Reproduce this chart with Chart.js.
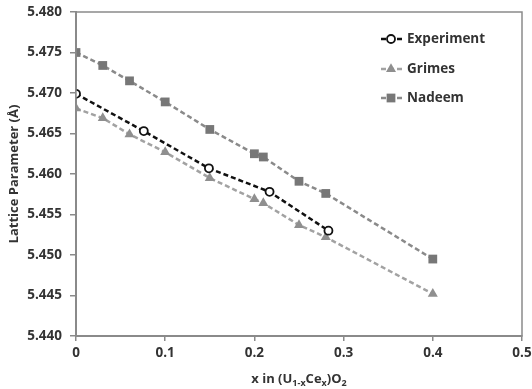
<!DOCTYPE html>
<html>
<head>
<meta charset="utf-8">
<script src="https://cdn.jsdelivr.net/npm/chart.js@4"></script>
<style>
  html, body { margin: 0; padding: 0; background: #fff; }
  #wrap { width: 532px; height: 389px; }
</style>
</head>
<body>
<div id="wrap"><canvas id="grafico" width="532" height="389"></canvas></div>
<script>
// valores
const expX = [0, 0.076, 0.149, 0.217, 0.283];
const expY = [5.4699, 5.4653, 5.4607, 5.4578, 5.4530];

const grimesX = [0, 0.03, 0.06, 0.1, 0.15, 0.2, 0.21, 0.25, 0.28, 0.4];
const grimesY = [5.4681, 5.4669, 5.4649, 5.4627, 5.4595, 5.4569, 5.4564, 5.4537, 5.4522, 5.4452];

const nadeemX = [0, 0.03, 0.06, 0.1, 0.15, 0.2, 0.21, 0.25, 0.28, 0.4];
const nadeemY = [5.4750, 5.4734, 5.4715, 5.4689, 5.4655, 5.4625, 5.4621, 5.4591, 5.4576, 5.4495];

const xTicks = [0, 0.1, 0.2, 0.3, 0.4, 0.5];
const yTicks = [5.440, 5.445, 5.450, 5.455, 5.460, 5.465, 5.470, 5.475, 5.480];

const fonte = '"Open Sans", "Liberation Sans", sans-serif';
const corTexto = '#333333';

function pontos(xs, ys) {
    return xs.map((x, i) => ({ x: x, y: ys[i] }));
}

function drawMarker(ctx, estilo, x, y, r) {
    if (estilo === 'circle') {
        ctx.arc(x, y, r, 0, Math.PI * 2);
    } else if (estilo === 'rect') {
        const s = r * Math.SQRT1_2;
        ctx.rect(x - s, y - s, 2 * s, 2 * s);
    } else if (estilo === 'triangle') {
        ctx.moveTo(x, y - r);
        ctx.lineTo(x + r * Math.sin(Math.PI / 3), y + r * 0.5);
        ctx.lineTo(x - r * Math.sin(Math.PI / 3), y + r * 0.5);
        ctx.closePath();
    }
}

// moldura, legenda e títulos dos eixos
const extras = {
    id: 'extras',
    afterDraw(chart) {
        const ctx = chart.ctx;
        const a = chart.chartArea;
        ctx.save();
        ctx.strokeStyle = '#8a8a8a';
        ctx.lineWidth = 1.5;
        ctx.strokeRect(a.left, a.top, a.right - a.left, a.bottom - a.top);

        // legenda
        const legX = 381, legY = [39, 69, 98];
        chart.data.datasets.forEach((ds, i) => {
            const y = legY[i];
            ctx.setLineDash([5, 3]);
            ctx.strokeStyle = ds.borderColor;
            ctx.lineWidth = 2.5;
            ctx.beginPath();
            ctx.moveTo(legX, y);
            ctx.lineTo(legX + 23, y);
            ctx.stroke();
            ctx.setLineDash([]);
            ctx.fillStyle = ds.pointBackgroundColor;
            ctx.strokeStyle = ds.pointBorderColor;
            ctx.lineWidth = ds.pointBorderWidth || 0.01;
            ctx.beginPath();
            drawMarker(ctx, ds.pointStyle, legX + 10, y, ds.pointRadius);
            ctx.fill();
            if (ds.pointBorderWidth) ctx.stroke();
            ctx.fillStyle = corTexto;
            ctx.font = 'bold 13.5px ' + fonte;
            ctx.textAlign = 'left';
            ctx.textBaseline = 'middle';
            ctx.fillText(ds.label, legX + 26, y);
        });

        // título do eixo y
        ctx.fillStyle = corTexto;
        ctx.font = 'bold 13px ' + fonte;
        ctx.translate(14, (a.top + a.bottom) / 2);
        ctx.rotate(-Math.PI / 2);
        ctx.textAlign = 'center';
        ctx.textBaseline = 'middle';
        ctx.fillText('Lattice Parameter (Å)', 0, 0);
        ctx.setTransform(1, 0, 0, 1, 0, 0);

        // título do eixo x com subscritos
        const partes = [
            ['x in (U', false], ['1-x', true], ['Ce', false], ['x', true], [')O', false], ['2', true]
        ];
        const fN = 'bold 13px ' + fonte, fS = 'bold 9px ' + fonte;
        let total = 0;
        partes.forEach(p => { ctx.font = p[1] ? fS : fN; total += ctx.measureText(p[0]).width; });
        let px = (a.left + a.right) / 2 - total / 2;
        const py = 379;
        ctx.textAlign = 'left';
        ctx.textBaseline = 'middle';
        partes.forEach(p => {
            ctx.font = p[1] ? fS : fN;
            ctx.fillText(p[0], px, p[1] ? py + 4 : py);
            px += ctx.measureText(p[0]).width;
        });
        ctx.restore();
    }
};

function criarGrafico() {
    const ctx = document.getElementById('grafico').getContext('2d');
    new Chart(ctx, {
        type: 'scatter',
        data: {
            datasets: [
                {
                    label: 'Experiment',
                    data: pontos(expX, expY),
                    showLine: true,
                    borderColor: '#111111',
                    borderWidth: 2.5,
                    borderDash: [5, 3],
                    pointStyle: 'circle',
                    pointRadius: 4,
                    pointBorderWidth: 1.8,
                    pointBackgroundColor: '#ffffff',
                    pointBorderColor: '#111111',
                    order: 0
                },
                {
                    label: 'Grimes',
                    data: pontos(grimesX, grimesY),
                    showLine: true,
                    borderColor: '#a2a2a2',
                    borderWidth: 2.5,
                    borderDash: [5, 3],
                    pointStyle: 'triangle',
                    pointRadius: 5.8,
                    pointBorderWidth: 0,
                    pointBackgroundColor: '#8f8f8f',
                    pointBorderColor: '#8f8f8f',
                    order: 1
                },
                {
                    label: 'Nadeem',
                    data: pontos(nadeemX, nadeemY),
                    showLine: true,
                    borderColor: '#8a8a8a',
                    borderWidth: 2.5,
                    borderDash: [5, 3],
                    pointStyle: 'rect',
                    pointRadius: 6.2,
                    pointBorderWidth: 0,
                    pointBackgroundColor: '#777777',
                    pointBorderColor: '#777777',
                    order: 2
                }
            ]
        },
        options: {
            responsive: false,
            animation: false,
            layout: { padding: { top: 12, right: 10, left: 0, bottom: 0 } },
            plugins: {
                legend: { display: false },
                tooltip: { enabled: false }
            },
            scales: {
                x: {
                    type: 'linear',
                    min: 0,
                    max: 0.5,
                    afterFit: s => { s.height = 53; s.paddingLeft = 0; s.paddingRight = 0; },
                    afterBuildTicks: s => { s.ticks = xTicks.map(v => ({ value: v })); },
                    ticks: {
                        color: corTexto,
                        font: { family: fonte, size: 13.5, weight: 'bold' },
                        padding: 4,
                        maxRotation: 0,
                        callback: v => (v === 0 ? '0' : String(Math.round(v * 10) / 10))
                    },
                    grid: { drawOnChartArea: false, drawTicks: true, tickLength: 5, color: '#8a8a8a', lineWidth: 1.5 },
                    border: { color: '#8a8a8a', width: 2 }
                },
                y: {
                    min: 5.44,
                    max: 5.48,
                    afterFit: s => { s.width = 76; s.paddingTop = 0; s.paddingBottom = 0; },
                    afterBuildTicks: s => { s.ticks = yTicks.map(v => ({ value: v })); },
                    ticks: {
                        color: corTexto,
                        font: { family: fonte, size: 13.5, weight: 'bold' },
                        padding: 8,
                        callback: v => v.toFixed(3)
                    },
                    grid: { drawOnChartArea: false, drawTicks: true, tickLength: 6, color: '#8a8a8a', lineWidth: 1.5 },
                    border: { color: '#8a8a8a', width: 2 }
                }
            }
        },
        plugins: [extras]
    });
}

criarGrafico();
</script>
</body>
</html>
